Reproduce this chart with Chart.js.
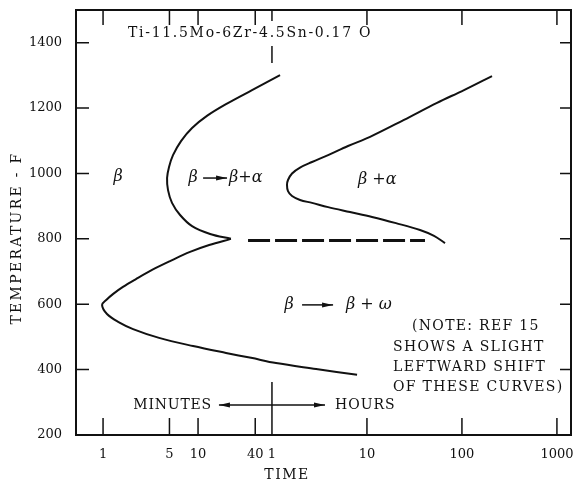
<!DOCTYPE html>
<html>
<head>
<meta charset="utf-8">
<script src="https://cdn.jsdelivr.net/npm/chart.js@4/dist/chart.umd.min.js"></script>
<style>
  body { margin: 0; background: #fff; }
  canvas { display: block; }
</style>
</head>
<body>
<canvas id="ttt" width="573" height="481"></canvas>
<script>
// time in minutes (log axis), temperature in deg F
const xTickValues = [1, 5, 10, 40, 60, 600, 6000, 60000];
const xTickLabels = ['1', '5', '10', '40', '1', '10', '100', '1000'];
const yTickValues = [200, 400, 600, 800, 1000, 1200, 1400];

// beta -> beta + alpha start curve (upper C)
const alphaStartTime = [73, 37, 19.7, 12.4, 8.65, 6.62, 5.45, 4.95, 4.72, 4.83, 5.32, 6.47, 8.65, 13.4, 22.2];
const alphaStartTemp = [1301, 1255, 1212, 1176, 1139, 1099, 1056, 1020, 986, 949, 910, 873, 839, 815, 800];

// beta -> beta + omega curve (lower C)
const omegaTime = [22.2, 13.1, 8.24, 5.07, 3.28, 2.22, 1.62, 1.27, 1.08, 0.976, 1.10, 1.44, 2.07, 3.89, 8.86, 19.7, 36.1, 66.2, 175, 472];
const omegaTemp = [800, 781, 760, 732, 705, 677, 653, 631, 613, 598, 570, 546, 524, 497, 472, 451, 436, 420, 402, 384];

// beta + alpha curve (right C)
const alphaEndTime = [12440, 6310, 3280, 1473, 647, 379, 234, 158.5, 118.5, 97.6, 88.5, 86.4, 88.5, 97.6, 118.5, 158.5, 234, 398, 679, 1213, 2172, 3050, 3981];
const alphaEndTemp = [1298, 1255, 1216, 1164, 1112, 1084, 1056, 1035, 1018, 1000, 980, 965, 946, 931, 919, 910, 897, 882, 867, 848, 827, 809, 787];

// dashed 800 F boundary
const dashTime = [33.6, 2450];
const dashTemp = [795, 795];

// labels inside the plot (time, temp)
const TXT = '14px "DejaVu Serif"';
const GREEK = 'italic 16px "DejaVu Serif"';
const notes = [
  { text: 'Ti-11.5Mo-6Zr-4.5Sn-0.17 O', t: 1.83, T: 1430, align: 'left', font: TXT, sp: 1.7 },
  { text: 'β', t: 1.44, T: 989, align: 'center', font: GREEK },
  { text: 'β', t: 8.86, T: 986, align: 'center', font: GREEK },
  { text: 'β+α', t: 21.2, T: 986, align: 'left', font: GREEK },
  { text: 'β +α', t: 483, T: 982, align: 'left', font: GREEK },
  { text: 'β', t: 90.8, T: 598, align: 'center', font: GREEK },
  { text: 'β + ω', t: 361, T: 598, align: 'left', font: GREEK },
  { text: '(NOTE: REF 15', t: 1790, T: 533, align: 'left', font: TXT, sp: 1.3 },
  { text: 'SHOWS A SLIGHT', t: 1130, T: 469, align: 'left', font: TXT, sp: 1.3 },
  { text: 'LEFTWARD SHIFT', t: 1130, T: 408, align: 'left', font: TXT, sp: 1.3 },
  { text: 'OF THESE CURVES)', t: 1130, T: 347, align: 'left', font: TXT, sp: 1.3 },
  { text: 'MINUTES', t: 14.0, T: 292, align: 'right', font: TXT, sp: 0.8 },
  { text: 'HOURS', t: 277, T: 292, align: 'left', font: TXT, sp: 1.0 }
];
const arrows = [
  { t1: 11.3, t2: 20.2, T: 986, both: false },
  { t1: 124.5, t2: 264, T: 598, both: false },
  { t1: 16.6, t2: 217, T: 292, both: true }
];

const pts = (xs, ys) => xs.map((v, i) => ({ x: v, y: ys[i] }));
const curve = (xs, ys) => ({
  data: pts(xs, ys), borderColor: '#111', borderWidth: 2,
  pointRadius: 0, tension: 0.35, fill: false
});

function arrowHead(ctx, tip, y, dir) {
  ctx.beginPath();
  ctx.moveTo(tip, y);
  ctx.lineTo(tip - dir * 11, y - 2.5);
  ctx.lineTo(tip - dir * 11, y + 2.5);
  ctx.closePath();
  ctx.fill();
}

const overlay = {
  id: 'overlay',
  beforeDraw(chart) {
    const ctx = chart.ctx;
    ctx.save();
    ctx.fillStyle = '#fff';
    ctx.fillRect(0, 0, chart.width, chart.height);
    ctx.restore();
  },
  afterDraw(chart) {
    const { ctx, chartArea: a, scales: { x, y } } = chart;
    ctx.save();
    ctx.strokeStyle = '#111';
    ctx.fillStyle = '#111';
    ctx.lineWidth = 2;
    ctx.strokeRect(a.left, a.top, a.right - a.left, a.bottom - a.top);

    // inward ticks on all four sides; the hour mark is long and skips the title
    ctx.lineWidth = 1.5;
    ctx.beginPath();
    xTickValues.forEach(v => {
      const px = x.getPixelForValue(v);
      if (v === 60) {
        ctx.moveTo(px, a.bottom); ctx.lineTo(px, a.bottom - 53);
        ctx.moveTo(px, a.top); ctx.lineTo(px, a.top + 11);
        ctx.moveTo(px, a.top + 36); ctx.lineTo(px, a.top + 53);
      } else {
        ctx.moveTo(px, a.bottom); ctx.lineTo(px, a.bottom - 17);
        ctx.moveTo(px, a.top); ctx.lineTo(px, a.top + 15);
      }
    });
    yTickValues.forEach(v => {
      const py = y.getPixelForValue(v);
      ctx.moveTo(a.left, py); ctx.lineTo(a.left + 13, py);
      ctx.moveTo(a.right, py); ctx.lineTo(a.right - 11, py);
    });
    ctx.stroke();

    // arrows
    arrows.forEach(ar => {
      const x1 = x.getPixelForValue(ar.t1), x2 = x.getPixelForValue(ar.t2);
      const py = y.getPixelForValue(ar.T);
      ctx.beginPath();
      ctx.moveTo(x1, py); ctx.lineTo(x2, py);
      ctx.stroke();
      arrowHead(ctx, x2, py, 1);
      if (ar.both) arrowHead(ctx, x1, py, -1);
    });

    // text labels
    ctx.textBaseline = 'middle';
    notes.forEach(n => {
      ctx.font = n.font;
      ctx.letterSpacing = (n.sp || 0) + 'px';
      ctx.textAlign = n.align;
      ctx.fillText(n.text, x.getPixelForValue(n.t), y.getPixelForValue(n.T));
    });

    // axis titles
    ctx.font = TXT;
    ctx.letterSpacing = '1.5px';
    ctx.textAlign = 'center';
    ctx.fillText('TIME', a.left + 211, 475);
    ctx.translate(17, 238);
    ctx.rotate(-Math.PI / 2);
    ctx.letterSpacing = '2.3px';
    ctx.fillText('TEMPERATURE - F', 0, 0);
    ctx.restore();
  }
};

new Chart(document.getElementById('ttt').getContext('2d'), {
  type: 'line',
  data: {
    datasets: [
      curve(alphaStartTime, alphaStartTemp),
      curve(omegaTime, omegaTemp),
      curve(alphaEndTime, alphaEndTemp),
      {
        data: pts(dashTime, dashTemp), borderColor: '#111', borderWidth: 3,
        borderDash: [22, 5], pointRadius: 0, fill: false
      }
    ]
  },
  options: {
    responsive: false,
    devicePixelRatio: 1,
    animation: false,
    layout: { padding: { top: 10, right: 2, left: 0, bottom: 0 } },
    plugins: { legend: { display: false }, tooltip: { enabled: false } },
    scales: {
      x: {
        type: 'logarithmic',
        min: 0.519,
        max: 84400,
        grid: { display: false },
        border: { display: false },
        afterBuildTicks: s => { s.ticks = xTickValues.map(v => ({ value: v })); },
        afterFit: s => { s.height = 46; s.paddingLeft = 0; s.paddingRight = 0; },
        ticks: {
          autoSkip: false,
          maxRotation: 0,
          padding: 4,
          color: '#111',
          font: { family: 'DejaVu Serif', size: 13 },
          callback: (v, i) => xTickLabels[i]
        }
      },
      y: {
        min: 200,
        max: 1500,
        grid: { display: false },
        border: { display: false },
        afterBuildTicks: s => { s.ticks = yTickValues.map(v => ({ value: v })); },
        afterFit: s => { s.width = 76; s.paddingTop = 0; s.paddingBottom = 0; },
        ticks: {
          padding: 6,
          color: '#111',
          font: { family: 'DejaVu Serif', size: 13 },
          callback: v => String(v)
        }
      }
    }
  },
  plugins: [overlay]
});
</script>
</body>
</html>
